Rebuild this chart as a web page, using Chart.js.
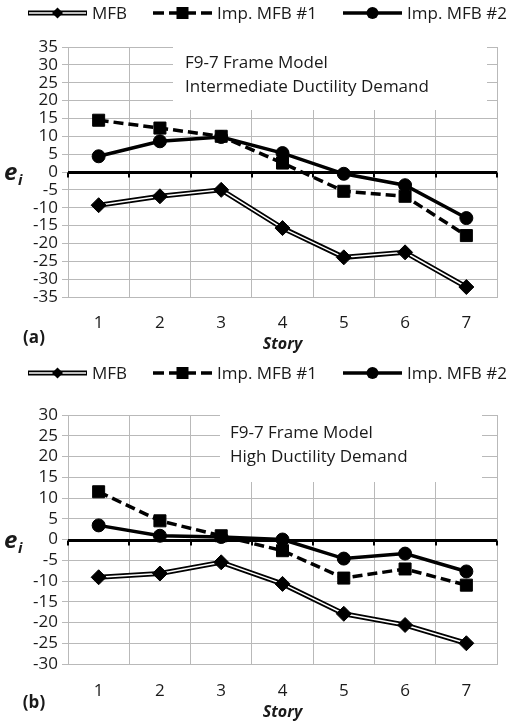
<!DOCTYPE html>
<html>
<head>
<meta charset="utf-8">
<script src="https://cdn.jsdelivr.net/npm/chart.js@4"></script>
<style>
  body { margin: 0; background: #fff; width: 509px; height: 724px; overflow: hidden; }
  canvas { position: absolute; left: 0; }
  #chartA { top: 0; }
  #chartB { top: 362px; }
</style>
</head>
<body>
<canvas id="chartA" width="509" height="362"></canvas>
<canvas id="chartB" width="509" height="362"></canvas>
<script>
var stories = ['1', '2', '3', '4', '5', '6', '7'];
var seriesNames = ['MFB', 'Imp. MFB #1', 'Imp. MFB #2'];

// (a) intermediate ductility demand
var mfbA  = [-9.3, -6.8, -5.0, -15.7, -23.9, -22.5, -32.2];
var imp1A = [14.5, 12.3, 10.0, 2.5, -5.4, -6.8, -17.8];
var imp2A = [4.4, 8.6, 9.8, 5.3, -0.5, -3.7, -12.9];
var yRangeA = [-35, 35];

// (b) high ductility demand
var mfbB  = [-9.1, -8.2, -5.5, -10.7, -17.9, -20.6, -25.0];
var imp1B = [11.5, 4.5, 0.9, -2.7, -9.3, -7.1, -11.0];
var imp2B = [3.4, 0.9, 0.6, 0.0, -4.6, -3.4, -7.7];
var yRangeB = [-30, 30];

var gridColor = '#b9b9b9';
var textColor = '#1a1a1a';
var FONT = "'Open Sans', sans-serif";
Chart.defaults.font.family = FONT;

function marker(ctx, style, x, y, r) {
  ctx.save();
  ctx.fillStyle = '#000';
  ctx.beginPath();
  if (style === 'rectRot') {
    ctx.moveTo(x - r, y); ctx.lineTo(x, y - r); ctx.lineTo(x + r, y); ctx.lineTo(x, y + r);
    ctx.closePath();
  } else if (style === 'rect') {
    ctx.rect(x - r, y - r, 2 * r, 2 * r);
  } else {
    ctx.arc(x, y, r, 0, Math.PI * 2);
  }
  ctx.fill();
  ctx.restore();
}

function drawLegend(ctx, y) {
  var xs = [28, 153, 343];
  var len = 59;
  ctx.save();
  ctx.lineCap = 'butt';
  // MFB: double line
  ctx.strokeStyle = '#000'; ctx.lineWidth = 5;
  ctx.beginPath(); ctx.moveTo(xs[0], y); ctx.lineTo(xs[0] + len, y); ctx.stroke();
  ctx.strokeStyle = '#fff'; ctx.lineWidth = 1.5;
  ctx.beginPath(); ctx.moveTo(xs[0] + 1, y); ctx.lineTo(xs[0] + len - 1, y); ctx.stroke();
  marker(ctx, 'rectRot', xs[0] + len / 2, y, 5.5);
  // Imp. MFB #1: dashed
  ctx.strokeStyle = '#000'; ctx.lineWidth = 3.5;
  ctx.setLineDash([11, 5]);
  ctx.beginPath(); ctx.moveTo(xs[1], y); ctx.lineTo(xs[1] + len, y); ctx.stroke();
  ctx.setLineDash([]);
  marker(ctx, 'rect', xs[1] + len / 2, y, 6);
  // Imp. MFB #2: solid
  ctx.beginPath(); ctx.moveTo(xs[2], y); ctx.lineTo(xs[2] + len, y); ctx.stroke();
  marker(ctx, 'circle', xs[2] + len / 2, y, 6);

  ctx.fillStyle = textColor;
  ctx.font = '17px ' + FONT;
  ctx.textBaseline = 'middle';
  ctx.textAlign = 'left';
  for (var i = 0; i < 3; i++) ctx.fillText(seriesNames[i], xs[i] + len + 5, y + 1);
  ctx.restore();
}

function makeChart(id, mfb, imp1, imp2, yRange, cfg) {
  var decor = {
    id: 'decor' + id,
    beforeDatasetsDraw: function (chart) {
      var ctx = chart.ctx, a = chart.chartArea;
      var ys = chart.scales.y;
      ctx.save();
      // annotation box hides the gridlines behind it
      ctx.fillStyle = '#fff';
      ctx.fillRect(cfg.box[0], cfg.box[1], cfg.box[2] - cfg.box[0], cfg.box[3] - cfg.box[1]);
      ctx.fillStyle = textColor;
      ctx.font = '17px ' + FONT;
      ctx.textBaseline = 'middle';
      ctx.fillText('F9-7 Frame Model', cfg.boxText[0], cfg.boxText[1]);
      ctx.fillText(cfg.demand, cfg.boxText[0], cfg.boxText[2]);
      // horizontal axis crossing at 0
      var y0 = Math.round(ys.getPixelForValue(0)) + 0.5;
      ctx.strokeStyle = '#000';
      ctx.lineWidth = 3;
      ctx.beginPath(); ctx.moveTo(a.left, y0); ctx.lineTo(a.right, y0); ctx.stroke();
      ctx.lineWidth = 2;
      var w = (a.right - a.left) / stories.length;
      for (var i = 0; i <= stories.length; i++) {
        var x = Math.round(a.left + i * w);
        ctx.beginPath(); ctx.moveTo(x, y0); ctx.lineTo(x, y0 + 5); ctx.stroke();
      }
      ctx.restore();
    },
    afterDraw: function (chart) {
      var ctx = chart.ctx, a = chart.chartArea;
      var y0 = chart.scales.y.getPixelForValue(0);
      drawLegend(ctx, cfg.legendY);
      ctx.save();
      ctx.fillStyle = textColor;
      ctx.textBaseline = 'alphabetic';
      ctx.font = 'italic bold 24px ' + FONT;
      ctx.fillText('e', 4, y0 + 8);
      ctx.font = 'italic bold 15px ' + FONT;
      ctx.fillText('i', 18, y0 + 13);
      ctx.textBaseline = 'middle';
      ctx.textAlign = 'center';
      ctx.font = 'italic bold 16px ' + FONT;
      ctx.fillText('Story', (a.left + a.right) / 2, cfg.storyY);
      ctx.font = 'bold 17px ' + FONT;
      ctx.fillText(cfg.tag, 34, cfg.tagY);
      ctx.restore();
    }
  };

  return new Chart(document.getElementById(id), {
    type: 'line',
    data: {
      labels: stories,
      datasets: [
        { label: seriesNames[0], data: mfb, borderColor: '#000', borderWidth: 5, pointRadius: 0, order: 6 },
        { label: seriesNames[0], data: mfb, borderColor: '#fff', borderWidth: 1.5, pointRadius: 0, order: 5 },
        { label: seriesNames[0], data: mfb, showLine: false, pointStyle: 'rectRot', pointRadius: 7.5,
          pointBackgroundColor: '#000', pointBorderColor: '#000', pointBorderWidth: 1, order: 4 },
        { label: seriesNames[1], data: imp1, borderColor: '#000', borderWidth: 3.5, borderDash: [10, 5],
          pointStyle: 'rect', pointRadius: 8.5, pointBackgroundColor: '#000', pointBorderColor: '#000',
          pointBorderWidth: 1, order: 2 },
        { label: seriesNames[2], data: imp2, borderColor: '#000', borderWidth: 3.5,
          pointStyle: 'circle', pointRadius: 6.5, pointBackgroundColor: '#000', pointBorderColor: '#000',
          pointBorderWidth: 1, order: 3 }
      ]
    },
    options: {
      responsive: false,
      animation: false,
      devicePixelRatio: 1,
      layout: { padding: { top: cfg.top, right: 12, left: 0, bottom: 0 } },
      plugins: { legend: { display: false }, tooltip: { enabled: false } },
      scales: {
        x: {
          offset: true,
          grid: { offset: true, color: gridColor, drawTicks: false },
          border: { color: gridColor },
          ticks: { color: textColor, font: { size: 17 }, padding: cfg.xPad, autoSkip: false, maxRotation: 0 },
          afterFit: function (s) { s.height = cfg.xHeight; }
        },
        y: {
          min: yRange[0],
          max: yRange[1],
          grid: { color: gridColor, tickLength: 6 },
          border: { color: gridColor },
          ticks: { stepSize: 5, color: textColor, font: { size: 17 }, padding: 4, autoSkip: false },
          afterFit: function (s) { s.width = 68; }
        }
      }
    },
    plugins: [decor]
  });
}

makeChart('chartA', mfbA, imp1A, imp2A, yRangeA, {
  top: 47, xHeight: 65, xPad: 16, legendY: 13,
  box: [173, 38, 487, 110], boxText: [185, 63, 87],
  demand: 'Intermediate Ductility Demand',
  storyY: 344, tag: '(a)', tagY: 338
});

makeChart('chartB', mfbB, imp1B, imp2B, yRangeB, {
  top: 53, xHeight: 60, xPad: 17, legendY: 11,
  box: [220, 44, 482, 120], boxText: [230, 71, 95],
  demand: 'High Ductility Demand',
  storyY: 350, tag: '(b)', tagY: 341
});
</script>
</body>
</html>
